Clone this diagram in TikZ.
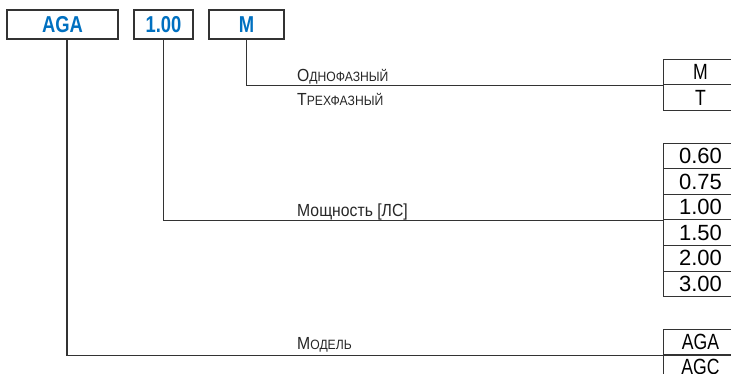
\documentclass[tikz,border=0pt]{standalone}
\usepackage{fontspec}
\setmainfont{Liberation Sans}[FakeStretch=0.8]
\newfontfamily\widefont{Liberation Sans}
\newfontfamily\labelfont{Liberation Sans}[FakeStretch=0.9]
\definecolor{codeblue}{HTML}{0070C0}
\newcommand\smcap[1]{{\fontsize{13.5}{13.5}\selectfont #1}}
\tikzset{
  codebox/.style={draw=black!80, line width=1.2pt, minimum height=29pt, inner sep=0pt,
    text=codeblue, font=\fontsize{23}{23}\selectfont\bfseries},
  optbox/.style={draw=black!80, line width=1pt, minimum width=74pt, minimum height=25.5pt,
    anchor=north west, inner sep=0pt, font=\fontsize{22}{22}\selectfont},
  optlabel/.style={anchor=base west, inner sep=0pt, text=black!85, font=\fontsize{17.5}{17.5}\labelfont},
  lead/.style={draw=black!80, line width=1.2pt}
}
\begin{document}
\begin{tikzpicture}[x=1pt, y=-1pt]
\useasboundingbox (0, 0) rectangle (731, 374);
% code boxes
\node[codebox, minimum width=111pt] (model) at (62.5, 24.5) {AGA};
\node[codebox, minimum width=59pt] (power) at (163.5, 24.5) {1.00};
\node[codebox, minimum width=75pt] (phase) at (246.5, 24.5) {M};
% options
\foreach \v [count=\i] in {M, T}
  \node[optbox] (ph\i) at (663, 59+25.5*\i-25.5) {\v};
\foreach \v [count=\i] in {0.60, 0.75, 1.00, 1.50, 2.00, 3.00}
  \node[optbox, font=\fontsize{22}{22}\widefont] (pw\i) at (663, 143+25.5*\i-25.5) {\v};
\foreach \v [count=\i] in {AGA, AGC}
  \node[optbox] (md\i) at (663, 329+25*\i-25) {\v};
% labels
\node[optlabel] (phlab1) at (297, 81.5) {О\smcap{ДНОФАЗНЫЙ}};
\node[optlabel] (phlab2) at (297, 105.5) {Т\smcap{РЕХФАЗНЫЙ}};
\node[optlabel] (pwlab) at (297, 216.5) {Мощность [ЛС]};
\node[optlabel] (mdlab) at (297, 349.5) {М\smcap{ОДЕЛЬ}};
% leads
\draw[lead] (phase.south) |- (ph1.south west);
\draw[lead] (power.south) |- (pw3.south west);
\draw[lead] ([xshift=4.5pt]model.south) |- (md1.south west);
\end{tikzpicture}
\end{document}
